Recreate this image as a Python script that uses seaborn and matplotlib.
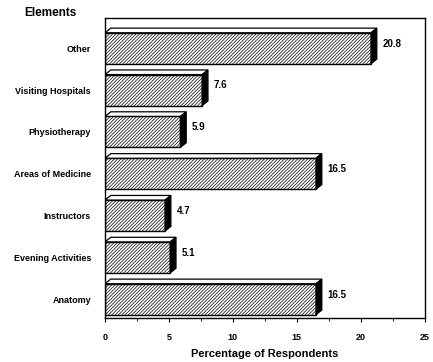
import matplotlib
matplotlib.use("Agg")
import matplotlib.pyplot as plt
import seaborn as sns
import pandas as pd
from matplotlib.patches import Polygon
from matplotlib.ticker import MultipleLocator

categories = ["Other", "Visiting Hospitals", "Physiotherapy", "Areas of Medicine",
              "Instructors", "Evening Activities", "Anatomy"]
values = [20.8, 7.6, 5.9, 16.5, 4.7, 5.1, 16.5]
xticks = [0, 5, 10, 15, 20, 25]

df = pd.DataFrame({"Element": categories, "Percentage": values})

sns.set_theme(style="white")
plt.rcParams["font.family"] = ["Liberation Sans", "DejaVu Sans"]
plt.rcParams["hatch.linewidth"] = 0.5
for k in ["text.color", "axes.labelcolor", "xtick.color", "ytick.color"]:
    plt.rcParams[k] = "black"

fig = plt.figure(figsize=(4.33, 3.62), dpi=100)
ax = fig.add_axes([0.2425, 0.1215, 0.7385, 0.8285])

sns.barplot(data=df, x="Percentage", y="Element", order=categories, orient="h",
            color="white", edgecolor="black", linewidth=1.0, width=0.74, ax=ax,
            saturation=1)

dx, dy = 0.45, 0.11
for p, v in zip(ax.patches, values):
    p.set_hatch("//////////")
    x0, y0 = p.get_x(), p.get_y()
    w, h = p.get_width(), p.get_height()
    top = y0
    ax.add_patch(Polygon([[x0, top], [x0 + dx, top - dy], [x0 + w + dx, top - dy], [x0 + w, top]],
                         closed=True, facecolor="white", edgecolor="black", linewidth=0.9, zorder=3))
    ax.add_patch(Polygon([[x0 + w, top], [x0 + w + dx, top - dy], [x0 + w + dx, top + h - dy], [x0 + w, top + h]],
                         closed=True, facecolor="black", edgecolor="black", linewidth=0.9, zorder=3))
    ax.text(v + 0.9, y0 + h * 0.35, f"{v:.1f}", fontsize=7, fontweight="bold",
            va="center", ha="left", color="black")

ax.set_xlim(0, 25)
ax.set_ylim(6.45, -0.72)
ax.set_xticks(xticks)
ax.xaxis.set_minor_locator(MultipleLocator(2.5))
ax.tick_params(axis="x", which="major", length=3, width=0.8, labelsize=6.5, pad=8, direction="out", bottom=True)
ax.tick_params(axis="x", which="minor", length=2, width=0.6, bottom=True)
ax.tick_params(axis="y", length=0, labelsize=6.5, pad=10)
for lab in ax.get_xticklabels() + ax.get_yticklabels():
    lab.set_fontweight("bold")
ax.set_ylabel("")
ax.set_xlabel("Percentage of Respondents", fontsize=8, fontweight="bold", labelpad=5)
for s in ax.spines.values():
    s.set_visible(True)
    s.set_color("black")
    s.set_linewidth(1.0)

fig.text(24 / 433, 1 - 13 / 362, "Elements", fontsize=8.5, fontweight="bold", va="center", ha="left")

fig.savefig("out.png", dpi=100, facecolor="white")
